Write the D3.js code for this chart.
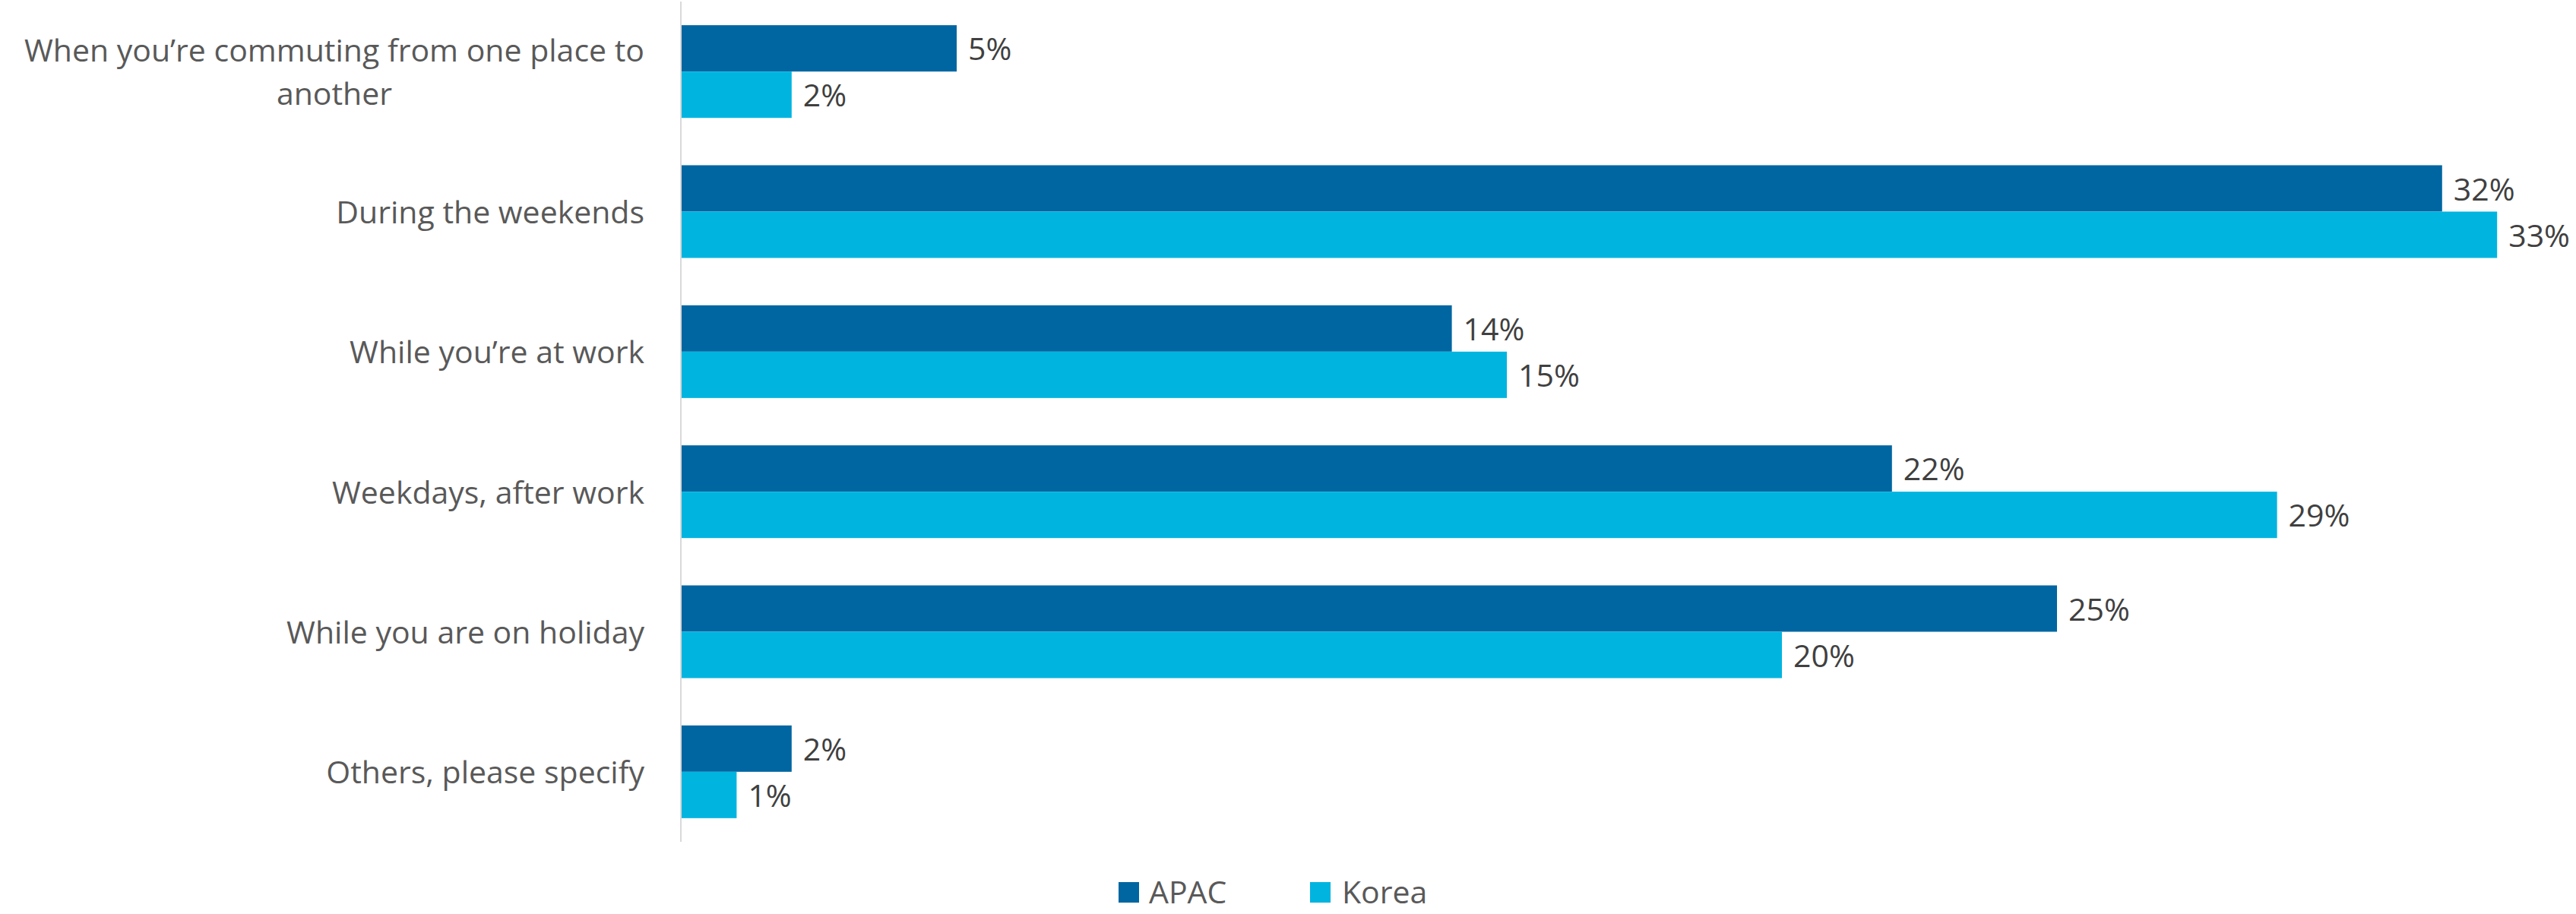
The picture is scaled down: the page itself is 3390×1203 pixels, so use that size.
<!DOCTYPE html>
<html>
<head>
<meta charset="utf-8">
<script src="https://cdn.jsdelivr.net/npm/d3@7"></script>
<style>
  html, body { margin: 0; padding: 0; background: #ffffff; }
  svg { display: block; }
  text { font-family: "Open Sans", sans-serif; }
</style>
</head>
<body>
<svg id="chart" width="3390" height="1203"></svg>
<script>
// Categories (each entry is a list of label lines)
const categories = [
  "When you’re commuting from one place to another",
  "During the weekends",
  "While you’re at work",
  "Weekdays, after work",
  "While you are on holiday",
  "Others, please specify"
];
const categoryLines = [
  ["When you’re commuting from one place to", "another"],
  ["During the weekends"],
  ["While you’re at work"],
  ["Weekdays, after work"],
  ["While you are on holiday"],
  ["Others, please specify"]
];
const seriesNames = ["APAC", "Korea"];
const apacValues  = [5, 32, 14, 22, 25, 2];
const koreaValues = [2, 33, 15, 29, 20, 1];
const seriesColors = ["#0066A1", "#00B4E0"];

const svg = d3.select("#chart");

const plotLeft = 897, plotTop = 2, plotBottom = 1108;

const x = d3.scaleLinear().domain([0, 34]).range([plotLeft, plotLeft + 34 * 72.4]);
const y = d3.scaleBand().domain(categories).range([plotTop, plotBottom])
  .paddingInner(0.338).paddingOuter(0.169);
const ySub = d3.scaleBand().domain(seriesNames).range([0, y.bandwidth()]);
const color = d3.scaleOrdinal().domain(seriesNames).range(seriesColors);

const rows = categories.map((c, i) => ({
  category: c,
  lines: categoryLines[i],
  values: [
    { series: "APAC", value: apacValues[i] },
    { series: "Korea", value: koreaValues[i] }
  ]
}));

// Bars
const groups = svg.append("g").selectAll("g")
  .data(rows).join("g")
  .attr("transform", d => `translate(0,${y(d.category)})`);

groups.selectAll("rect")
  .data(d => d.values).join("rect")
  .attr("x", x(0))
  .attr("y", d => ySub(d.series))
  .attr("width", d => x(d.value) - x(0))
  .attr("height", ySub.bandwidth())
  .attr("fill", d => color(d.series));

// Value labels
groups.selectAll("text.val")
  .data(d => d.values).join("text")
  .attr("class", "val")
  .attr("x", d => x(d.value) + 15)
  .attr("y", d => ySub(d.series) + ySub.bandwidth() / 2 + 1)
  .attr("dy", "0.357em")
  .attr("font-size", 41)
  .attr("fill", "#404040")
  .text(d => d.value + "%");

// Vertical category axis line
svg.append("line")
  .attr("x1", plotLeft - 1).attr("x2", plotLeft - 1)
  .attr("y1", plotTop).attr("y2", plotBottom)
  .attr("stroke", "#d9d9d9").attr("stroke-width", 2);

// Category labels (multi-line labels are centred on their widest line)
const labelRight = 848, lineHeight = 57;
const catLabels = svg.append("g").selectAll("text")
  .data(rows).join("text")
  .attr("font-size", 41)
  .attr("fill", "#595959");

catLabels.each(function(d) {
  const t = d3.select(this);
  const cy = y(d.category) + y.bandwidth() / 2 + 1;
  const n = d.lines.length;
  const tspans = t.selectAll("tspan").data(d.lines).join("tspan")
    .attr("y", (l, i) => cy + (i - (n - 1) / 2) * lineHeight)
    .attr("dy", "0.357em")
    .text(l => l);
  if (n === 1) {
    t.attr("text-anchor", "end");
    tspans.attr("x", labelRight);
  } else {
    let maxW = 0;
    tspans.each(function() { maxW = Math.max(maxW, this.getComputedTextLength()); });
    t.attr("text-anchor", "middle");
    tspans.attr("x", labelRight - maxW / 2);
  }
});

// Legend
const legendItems = [
  { name: "APAC", sx: 1472, tx: 1512 },
  { name: "Korea", sx: 1724, tx: 1766 }
];
const legendTop = 1161;
const legend = svg.append("g").selectAll("g")
  .data(legendItems).join("g");
legend.append("rect")
  .attr("x", d => d.sx).attr("y", legendTop)
  .attr("width", 27).attr("height", 27)
  .attr("fill", d => color(d.name));
legend.append("text")
  .attr("x", d => d.tx).attr("y", legendTop + 13.5)
  .attr("dy", "0.357em")
  .attr("font-size", 41)
  .attr("fill", "#595959")
  .text(d => d.name);
</script>
</body>
</html>
